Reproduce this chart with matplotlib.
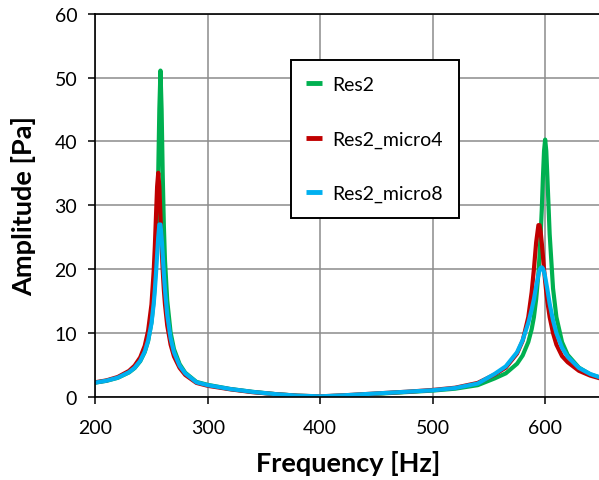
import matplotlib
matplotlib.use("Agg")
import matplotlib.pyplot as plt
import numpy as np

plt.rcParams['font.family'] = ['Lato', 'DejaVu Sans']

# frequency points (Hz), denser around the two resonances
freq = [200, 210, 220, 230, 235, 240, 244, 247, 250, 252,
        253, 254, 255, 256, 257, 258, 259, 260, 261, 262,
        264, 267, 270, 275, 280, 290, 300, 320, 340, 360,
        380, 400, 420, 440, 460, 480, 500, 520, 540, 555,
        565, 575, 580, 585, 588, 590, 592, 594, 595, 596,
        597, 598, 599, 600, 601, 602, 604, 607, 610, 615,
        620, 630, 640, 650]

res2 = [2.25, 2.53, 3.0, 3.84, 4.52, 5.6, 7.03, 8.75, 11.7, 15.2,
        17.9, 21.6, 27.0, 34.9, 45.1, 51.1, 45.0, 34.7, 26.8, 21.4,
        15.1, 10.1, 7.5, 5.15, 3.8, 2.36, 1.9, 1.25, 0.8, 0.45,
        0.2, 0.08, 0.22, 0.4, 0.6, 0.8, 1.0, 1.3, 1.85, 2.9,
        3.7, 5.2, 6.5, 8.6, 10.6, 12.5, 15.3, 19.3, 22.1, 25.5,
        29.3, 34.3, 38.5, 40.3, 38.5, 34.3, 25.5, 17.0, 12.5, 8.6,
        6.6, 4.6, 3.55, 2.95]

res2_micro4 = [2.3, 2.6, 3.13, 4.08, 4.9, 6.2, 8.0, 10.35, 14.5, 19.8,
               23.6, 28.3, 32.9, 35.1, 32.9, 28.3, 23.6, 19.8, 16.8, 14.5,
               11.2, 8.2, 6.35, 4.55, 3.45, 2.2, 1.75, 1.2, 0.75, 0.45,
               0.2, 0.1, 0.25, 0.45, 0.65, 0.85, 1.1, 1.45, 2.2, 3.5,
               4.6, 6.8, 8.8, 12.5, 16.4, 20.0, 24.2, 26.9, 26.9, 25.9,
               24.1, 22.1, 20.0, 18.1, 16.4, 14.9, 12.5, 10.0, 8.2, 6.4,
               5.45, 4.1, 3.35, 2.85]

res2_micro8 = [2.25, 2.55, 3.02, 3.88, 4.57, 5.67, 7.1, 8.83, 11.55, 14.65,
               16.8, 19.3, 22.2, 25.0, 27.0, 27.0, 25.0, 22.2, 19.3, 16.8,
               12.9, 9.2, 7.0, 4.9, 3.7, 2.3, 1.85, 1.25, 0.8, 0.45,
               0.2, 0.1, 0.25, 0.45, 0.65, 0.85, 1.05, 1.4, 2.1, 3.6,
               4.8, 7.0, 8.9, 11.6, 13.7, 15.3, 17.3, 19.1, 19.8, 20.2,
               20.3, 20.1, 19.6, 18.8, 17.8, 16.8, 14.6, 12.0, 10.0, 7.7,
               6.3, 4.55, 3.6, 3.0]

fig = plt.figure(figsize=(5.99, 4.81), dpi=100)
ax = fig.add_axes([0.159, 0.1726, 0.845, 0.7968])

ax.plot(freq, res2, color='#00B050', lw=3.0, label='Res2', solid_joinstyle='round')
ax.plot(freq, res2_micro4, color='#C00000', lw=3.0, label='Res2_micro4', solid_joinstyle='round')
ax.plot(freq, res2_micro8, color='#00B0F0', lw=3.0, label='Res2_micro8', solid_joinstyle='round')

ax.set_xlim(200, 650)
ax.set_ylim(0, 60)
ax.set_xticks([200, 300, 400, 500, 600])
ax.set_yticks([0, 10, 20, 30, 40, 50, 60])
ax.grid(True, color='#8c8c8c', lw=1.1)
ax.set_axisbelow(True)

for s in ['left', 'bottom', 'top']:
    ax.spines[s].set_linewidth(1.2)
    ax.spines[s].set_color('black')
ax.spines['right'].set_visible(False)

ax.tick_params(direction='out', length=5, width=1.1, labelsize=14)
ax.tick_params(axis='x', pad=11)
ax.tick_params(axis='y', pad=8)

ax.set_xlabel('Frequency [Hz]', fontsize=19.5, fontweight='bold', labelpad=10)
ax.set_ylabel('Amplitude [Pa]', fontsize=19.5, fontweight='bold', labelpad=13)

leg = ax.legend(loc='upper left', bbox_to_anchor=(0.386, 0.878), fontsize=14,
                frameon=True, fancybox=False, shadow=False, borderpad=0.8,
                labelspacing=1.92, handlelength=0.8, handletextpad=0.55,
                borderaxespad=0)
leg.get_frame().set_edgecolor('black')
leg.get_frame().set_linewidth(1.4)
leg.get_frame().set_alpha(1)
for h in leg.get_lines():
    h.set_solid_capstyle('butt')
    h.set_linewidth(3.5)

fig.savefig('out.png', dpi=100)
